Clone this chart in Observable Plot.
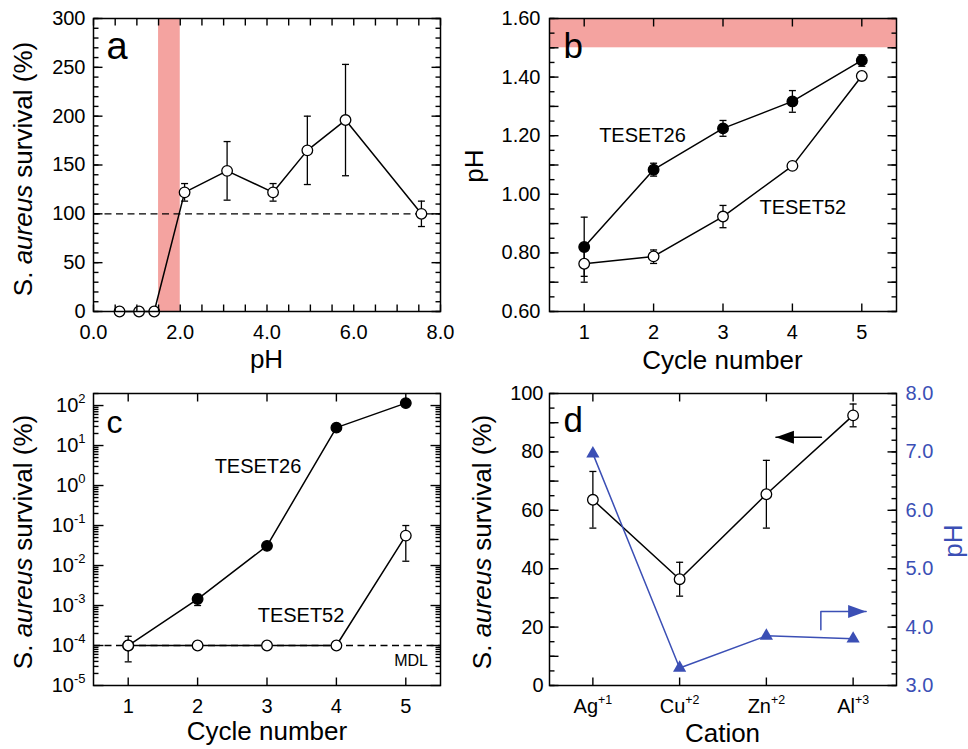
<!DOCTYPE html>
<html>
<head>
<meta charset="utf-8">
<script src="https://cdn.jsdelivr.net/npm/d3@7"></script>
<script src="https://cdn.jsdelivr.net/npm/@observablehq/plot@0.6"></script>
<style>
html,body{margin:0;padding:0;background:#fff;}
#fig{position:relative;width:968px;height:749px;overflow:hidden;font-family:"Liberation Sans",Arial,Helvetica,sans-serif;color:#000;}
#fig svg{position:absolute;overflow:visible;max-width:none;}
.t{position:absolute;white-space:nowrap;line-height:1;font-size:26px;}
</style>
</head>
<body>
<div id="fig"></div>
<script>
// ---------------- DATA ----------------
// Panel a: survival vs pH
const aPH      = [0.6, 1.05, 1.4, 2.1, 3.08, 4.14, 4.93, 5.81, 7.56];
const aSurv    = [0, 0, 0, 122, 144, 122, 165, 196, 100];
const aErr     = [0, 0, 0, 9, 30, 9, 35, 57, 13];
const aBand    = [1.5, 2.0];
const aRefLine = [100];
const aXLabels = [0, 2, 4, 6, 8];
const aYLabels = [0, 50, 100, 150, 200, 250, 300];

// Panel b: pH vs cycle number
const cycles  = [1, 2, 3, 4, 5];
const b26     = [0.82, 1.084, 1.225, 1.317, 1.457];
const b26Lo   = [0.72, 1.062, 1.198, 1.28, 1.437];
const b26Hi   = [0.922, 1.106, 1.252, 1.354, 1.476];
const b52     = [0.763, 0.788, 0.924, 1.097, 1.404];
const b52Lo   = [0.70, 0.764, 0.886, null, null];
const b52Hi   = [0.826, 0.81, 0.962, null, null];
const bBand   = [1.5, 1.6];
const bYLabels = [0.6, 0.8, 1.0, 1.2, 1.4, 1.6];

// Panel c: survival (log) vs cycle number
const c26   = [1e-4, 1.45e-3, 0.031, 28, 115];
const c26Lo = [null, 1.0e-3, null, null, null];
const c26Hi = [null, 1.9e-3, null, null, null];
const c52   = [1e-4, 1e-4, 1e-4, 1e-4, 0.056];
const c52Lo = [3.9e-5, null, null, null, 0.0128];
const c52Hi = [1.7e-4, null, null, null, 0.10];
const cMDL  = [1e-4];
const cYLabels = [1e-5, 1e-4, 1e-3, 1e-2, 1e-1, 1e0, 1e1, 1e2];

// Panel d: survival and pH by cation
const cations  = ["Ag^+1", "Cu^+2", "Zn^+2", "Al^+3"];
const dSurv    = [63.6, 36.4, 65.5, 92.5];
const dSurvErr = [9.7, 5.8, 11.6, 3.9];
const dPH      = [6.97, 3.30, 3.85, 3.80];
const dYLabels = [0, 20, 40, 60, 80, 100];
const dPHLabels = [3, 4, 5, 6, 7, 8];
// annotation arrows (data coordinates)
const dLeftArrow  = [{x: 2.635, y: 85}, {x: 2.11, y: 85}];            // survival units
const dRightArrow = [{x: 2.628, y: 3.953}, {x: 2.628, y: 4.266}, {x: 3.15, y: 4.266}]; // pH units

// ---------------- STYLE ----------------
const FONT = '"Liberation Sans", Arial, Helvetica, sans-serif';
const PINK = "#f4a3a0";
const BLUE = "#3b4fb5";
const fig = document.getElementById("fig");

const capSym = {draw(ctx, size){ const r = Math.sqrt(size/Math.PI); ctx.moveTo(-r,0); ctx.lineTo(r,0); }};
const headRight = {draw(ctx){ ctx.moveTo(0,0); ctx.lineTo(-18,-6.5); ctx.lineTo(-18,6.5); ctx.closePath(); }};
const headLeft  = {draw(ctx){ ctx.moveTo(0,0); ctx.lineTo(18,-6.5); ctx.lineTo(18,6.5); ctx.closePath(); }};
const tickSym = (dx, dy) => ({draw(ctx){ ctx.moveTo(0,0); ctx.lineTo(dx,dy); }});

// inward tick marks drawn at the frame edges, through the plot's own scales
function frameTicks({xd, yd, xs = [], xLen = 8, yMaj = [], yMajLen = 9, yMin = [], yMinLen = 5, left = true, right = true, top = true, bottom = true}) {
  const st = {stroke: "#000", strokeWidth: 1.4, fill: "none"};
  const m = [];
  if (bottom) m.push(Plot.dot(xs, {x: d => d, y: () => yd[0], symbol: tickSym(0, -xLen), ...st}));
  if (top)    m.push(Plot.dot(xs, {x: d => d, y: () => yd[1], symbol: tickSym(0, xLen), ...st}));
  for (const [arr, len] of [[yMaj, yMajLen], [yMin, yMinLen]]) {
    if (left)  m.push(Plot.dot(arr, {y: d => d, x: () => xd[0], symbol: tickSym(len, 0), ...st}));
    if (right) m.push(Plot.dot(arr, {y: d => d, x: () => xd[1], symbol: tickSym(-len, 0), ...st}));
  }
  return m;
}

function errMarks(pts, stroke = "#000") {
  return [
    Plot.ruleX(pts, {x: "x", y1: "lo", y2: "hi", stroke, strokeWidth: 1.3}),
    Plot.dot(pts, {x: "x", y: "lo", symbol: capSym, r: 3.5, stroke, strokeWidth: 1.3, fill: "none"}),
    Plot.dot(pts, {x: "x", y: "hi", symbol: capSym, r: 3.5, stroke, strokeWidth: 1.3, fill: "none"})
  ];
}

function supify(svg, fs, dy) {
  const NS = "http://www.w3.org/2000/svg";
  svg.querySelectorAll("text").forEach(t => {
    const s = t.textContent; const i = s.indexOf("^");
    if (i < 0) return;
    t.textContent = "";
    const a = document.createElementNS(NS, "tspan"); a.textContent = s.slice(0, i);
    const b = document.createElementNS(NS, "tspan"); b.textContent = s.slice(i + 1);
    b.setAttribute("dy", dy); b.setAttribute("font-size", fs);
    t.append(a, b);
  });
}

function place(svg, left, top) {
  svg.style.left = left + "px"; svg.style.top = top + "px";
  fig.appendChild(svg);
  return svg;
}

function label(html, cx, cy, {rotate = 0, size = 26, color = "#000"} = {}) {
  const d = document.createElement("div");
  d.className = "t"; d.innerHTML = html;
  d.style.left = cx + "px"; d.style.top = cy + "px";
  d.style.fontSize = size + "px"; d.style.color = color;
  d.style.transform = `translate(-50%,-50%) rotate(${rotate}deg)`;
  fig.appendChild(d);
}

const baseStyle = {fontFamily: FONT, fontSize: "20px", color: "#000", background: "transparent", overflow: "visible"};

// ---------------- PANEL A ----------------
{
  const W = 484, H = 370, ml = 93, mr = 44, mt = 18, mb = 59;
  const xd = [0, 8], yd = [0, 300];
  const pts = aPH.map((x, i) => ({x, y: aSurv[i], lo: aSurv[i] - aErr[i], hi: aSurv[i] + aErr[i], e: aErr[i]}));
  const svg = Plot.plot({
    width: W, height: H, marginLeft: ml, marginRight: mr, marginTop: mt, marginBottom: mb,
    x: {domain: xd}, y: {domain: yd},
    style: baseStyle,
    marks: [
      Plot.rect([aBand], {x1: d => d[0], x2: d => d[1], fill: PINK}),
      Plot.ruleY(aRefLine, {y: d => d, stroke: "#000", strokeWidth: 1.3, strokeDasharray: "7,4.5"}),
      Plot.line(pts, {x: "x", y: "y", stroke: "#000", strokeWidth: 1.5}),
      ...errMarks(pts.filter(d => d.e > 0)),
      Plot.dot(pts, {x: "x", y: "y", r: 5.3, fill: "white", stroke: "#000", strokeWidth: 1.3}),
      ...frameTicks({xd, yd, xs: d3.range(0, 8.01, 0.5), xLen: 7, yMaj: d3.range(0, 301, 50), yMin: d3.range(0, 301, 10)}),
      Plot.frame({stroke: "#000", strokeWidth: 1.5}),
      Plot.axisX(aXLabels, {tickSize: 0, tickPadding: 13, tickFormat: d => d.toFixed(1), label: null}),
      Plot.axisY(aYLabels, {tickSize: 0, tickPadding: 8, label: null}),
      Plot.text(["a"], {text: d => d, frameAnchor: "top-left", dx: 13, dy: 40, lineAnchor: "bottom", textAnchor: "start", fontSize: 38})
    ]
  });
  place(svg, 0, 0);
}

// ---------------- PANEL B ----------------
{
  const W = 484, H = 370, ml = 65, mr = 72, mt = 18, mb = 59;
  const xd = [0.5, 5.5], yd = [0.6, 1.6];
  const p26 = cycles.map((x, i) => ({x, y: b26[i], lo: b26Lo[i], hi: b26Hi[i]}));
  const p52 = cycles.map((x, i) => ({x, y: b52[i], lo: b52Lo[i], hi: b52Hi[i]}));
  const svg = Plot.plot({
    width: W, height: H, marginLeft: ml, marginRight: mr, marginTop: mt, marginBottom: mb,
    x: {domain: xd}, y: {domain: yd},
    style: baseStyle,
    marks: [
      Plot.rect([bBand], {y1: d => d[0], y2: d => d[1], fill: PINK}),
      Plot.line(p26, {x: "x", y: "y", stroke: "#000", strokeWidth: 1.5}),
      ...errMarks(p26.filter(d => d.lo != null)),
      Plot.dot(p26, {x: "x", y: "y", r: 5.3, fill: "#000", stroke: "#000", strokeWidth: 1.3}),
      Plot.line(p52, {x: "x", y: "y", stroke: "#000", strokeWidth: 1.5}),
      ...errMarks(p52.filter(d => d.lo != null)),
      Plot.dot(p52, {x: "x", y: "y", r: 5.3, fill: "white", stroke: "#000", strokeWidth: 1.3}),
      ...frameTicks({xd, yd, xs: cycles, xLen: 8, yMaj: d3.range(0.6, 1.601, 0.1), yMin: d3.range(0.6, 1.601, 0.05)}),
      Plot.frame({stroke: "#000", strokeWidth: 1.5}),
      Plot.axisX(cycles, {tickSize: 0, tickPadding: 13, label: null}),
      Plot.axisY(bYLabels, {tickSize: 0, tickPadding: 9, tickFormat: d => d.toFixed(2), label: null}),
      Plot.text([{x: 1.84, y: 1.20, t: "TESET26"}, {x: 4.15, y: 0.955, t: "TESET52"}], {x: "x", y: "y", text: "t", fontSize: 20}),
      Plot.text(["b"], {text: d => d, frameAnchor: "top-left", dx: 14, dy: 39, lineAnchor: "bottom", textAnchor: "start", fontSize: 35})
    ]
  });
  place(svg, 484, 0);
}

// ---------------- PANEL C ----------------
{
  const W = 484, H = 379, ml = 93, mr = 44, mt = 23, mb = 64;
  const xd = [0.5, 5.5], yd = [1e-5, 200];
  const p26 = cycles.map((x, i) => ({x, y: c26[i], lo: c26Lo[i], hi: c26Hi[i]}));
  const p52 = cycles.map((x, i) => ({x, y: c52[i], lo: c52Lo[i], hi: c52Hi[i]}));
  const minor = [];
  for (let e = -5; e <= 2; e++) for (let k = 2; k <= 9; k++) { const v = k * Math.pow(10, e); if (v <= 200) minor.push(v); }
  const svg = Plot.plot({
    width: W, height: H, marginLeft: ml, marginRight: mr, marginTop: mt, marginBottom: mb,
    x: {domain: xd}, y: {type: "log", domain: yd},
    style: baseStyle,
    marks: [
      Plot.ruleY(cMDL, {y: d => d, stroke: "#000", strokeWidth: 1.3, strokeDasharray: "7,4.5"}),
      Plot.line(p26, {x: "x", y: "y", stroke: "#000", strokeWidth: 1.5}),
      ...errMarks(p26.filter(d => d.lo != null)),
      Plot.dot(p26, {x: "x", y: "y", r: 5.3, fill: "#000", stroke: "#000", strokeWidth: 1.3}),
      Plot.line(p52, {x: "x", y: "y", stroke: "#000", strokeWidth: 1.5}),
      ...errMarks(p52.filter(d => d.lo != null)),
      Plot.dot(p52, {x: "x", y: "y", r: 5.3, fill: "white", stroke: "#000", strokeWidth: 1.3}),
      ...frameTicks({xd, yd, xs: cycles, xLen: 8, yMaj: cYLabels, yMajLen: 10, yMin: minor, yMinLen: 5}),
      Plot.frame({stroke: "#000", strokeWidth: 1.5}),
      Plot.axisX(cycles, {tickSize: 0, tickPadding: 13, label: null}),
      Plot.axisY(cYLabels, {tickSize: 0, tickPadding: 8, tickFormat: d => "10^" + Math.round(Math.log10(d)), label: null}),
      Plot.text([{x: 2.87, y: 2.96, t: "TESET26"}, {x: 3.49, y: 5.6e-4, t: "TESET52"}], {x: "x", y: "y", text: "t", fontSize: 20}),
      Plot.text([{x: 5.32, y: 4.2e-5, t: "MDL"}], {x: "x", y: "y", text: "t", fontSize: 16, textAnchor: "end"}),
      Plot.text(["c"], {text: d => d, frameAnchor: "top-left", dx: 13, dy: 39, lineAnchor: "bottom", textAnchor: "start", fontSize: 32})
    ]
  });
  supify(svg, "0.65em", "-0.72em");
  place(svg, 0, 370);
}

// ---------------- PANEL D ----------------
{
  const W = 484, H = 379, ml = 65, mr = 72, mt = 23, mb = 64;
  const xd = [-0.5, 3.5], yd = [0, 100], pd = [3, 8];
  const idx = cations.map((c, i) => i);
  const ps = idx.map(i => ({x: i, y: dSurv[i], lo: dSurv[i] - dSurvErr[i], hi: dSurv[i] + dSurvErr[i]}));
  const pp = idx.map(i => ({x: i, y: dPH[i]}));
  const svg = Plot.plot({
    width: W, height: H, marginLeft: ml, marginRight: mr, marginTop: mt, marginBottom: mb,
    x: {domain: xd}, y: {domain: yd},
    style: baseStyle,
    marks: [
      Plot.line(ps, {x: "x", y: "y", stroke: "#000", strokeWidth: 1.5}),
      ...errMarks(ps),
      Plot.dot(ps, {x: "x", y: "y", r: 5.3, fill: "white", stroke: "#000", strokeWidth: 1.3}),
      Plot.line(dLeftArrow, {x: "x", y: "y", stroke: "#000", strokeWidth: 1.5}),
      Plot.dot(dLeftArrow.slice(1), {x: "x", y: "y", symbol: headLeft, fill: "#000", stroke: "none"}),
      ...frameTicks({xd, yd, xs: idx, xLen: 8, yMaj: d3.range(0, 101, 10), yMin: d3.range(0, 101, 5), right: false}),
      Plot.frame({stroke: "#000", strokeWidth: 1.5}),
      Plot.axisX(idx, {tickSize: 0, tickPadding: 13, tickFormat: i => cations[i], label: null}),
      Plot.axisY(dYLabels, {tickSize: 0, tickPadding: 6, label: null}),
      Plot.text(["d"], {text: d => d, frameAnchor: "top-left", dx: 14, dy: 38, lineAnchor: "bottom", textAnchor: "start", fontSize: 35})
    ]
  });
  supify(svg, "0.62em", "-0.72em");
  place(svg, 484, 370);

  const svg2 = Plot.plot({
    width: W, height: H, marginLeft: ml, marginRight: mr, marginTop: mt, marginBottom: mb,
    x: {domain: xd, axis: null}, y: {domain: pd},
    style: baseStyle,
    marks: [
      Plot.line(pp, {x: "x", y: "y", stroke: BLUE, strokeWidth: 1.5}),
      Plot.dot(pp, {x: "x", y: "y", symbol: "triangle", r: 4.9, fill: BLUE, stroke: "none"}),
      Plot.line(dRightArrow, {x: "x", y: "y", stroke: BLUE, strokeWidth: 1.5}),
      Plot.dot(dRightArrow.slice(2), {x: "x", y: "y", symbol: headRight, fill: BLUE, stroke: "none"}),
      ...frameTicks({xd, yd: pd, yMaj: d3.range(3, 8.01, 1), yMin: d3.range(3, 8.01, 0.2), left: false, top: false, bottom: false}),
      Plot.axisY(dPHLabels, {anchor: "right", tickSize: 0, tickPadding: 9, tickFormat: d => d.toFixed(1), color: BLUE, fill: BLUE, label: null})
    ]
  });
  place(svg2, 484, 370);
}

// ---------------- AXIS TITLES ----------------
const survTitle = 'S. <i>aureus</i> survival (%)';
label(survTitle, 23, 169, {rotate: -90});
label("pH", 266.5, 359);
label("pH", 474, 166, {rotate: -90});
label("Cycle number", 722.5, 360);
label(survTitle, 23, 542, {rotate: -90});
label("Cycle number", 267, 731);
label(survTitle, 482, 542, {rotate: -90});
label("Cation", 722.5, 733);
label("pH", 953, 541, {rotate: -90, color: BLUE});
</script>
</body>
</html>
